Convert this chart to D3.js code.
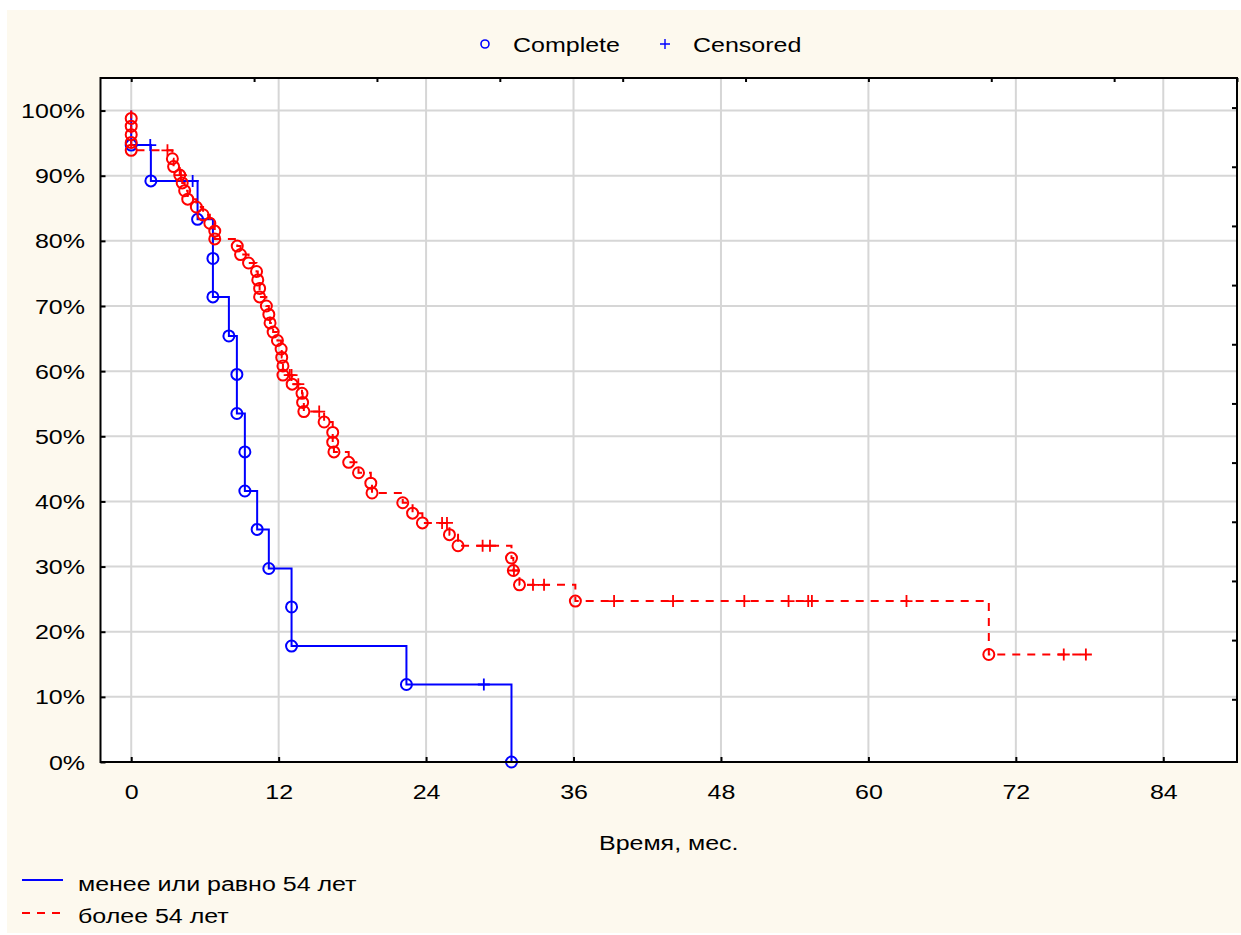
<!DOCTYPE html>
<html>
<head>
<meta charset="utf-8">
<script src="https://cdn.jsdelivr.net/npm/d3@7"></script>
<style>
  html, body { margin: 0; padding: 0; background: #fff; }
  svg { display: block; }
  text { font-family: "Liberation Sans", Arial, sans-serif; font-size: 20px; fill: #000; }
</style>
</head>
<body>
<svg id="chart" width="1241" height="935"></svg>
<script>
// Kaplan–Meier survival estimates by age group (time in months, survival in %)
// status: 1 = complete (event), 0 = censored

// group: age <= 54
const youngTime   = [0, 1.55, 1.6, 5.0, 5.4, 6.65, 6.65, 7.95, 8.6, 8.6, 9.25, 9.25, 10.25, 11.2, 13.05, 13.05, 22.4, 28.7, 30.95];
const youngSurv   = [94.7, 94.7, 89.2, 89.2, 83.3, 77.3, 71.4, 65.4, 59.5, 53.5, 47.6, 41.6, 35.7, 29.7, 23.8, 17.8, 11.9, 11.9, 0];
const youngStatus = [1, 0, 1, 0, 1, 1, 1, 1, 1, 1, 1, 1, 1, 1, 1, 1, 1, 0, 1];

// group: age > 54
const oldTime = [0, 0, 0, 0, 0, 2.95, 3.35, 3.45, 3.95, 4.05, 4.15, 4.35, 4.6, 5.3, 5.85, 6.4, 6.8, 6.8,
  8.63, 8.9, 9.55, 10.2, 10.3, 10.45, 10.45, 11.0, 11.2, 11.3, 11.55, 11.9, 12.2, 12.25, 12.35, 12.35,
  12.9, 13.05, 13.1, 13.6, 13.9, 13.95, 14.05, 15.3, 15.7, 16.4, 16.4, 16.5, 17.7, 18.5, 19.5, 19.6,
  22.1, 22.9, 23.7, 25.3, 25.7, 25.9, 26.6, 28.6, 29.2, 30.95, 31.1, 31.15, 31.6, 32.7, 33.6, 36.15,
  39.3, 44.1, 49.9, 53.5, 55.1, 55.4, 63.1, 69.8, 75.9, 77.7];
const oldSurv = [98.8, 97.6, 96.3, 95.1, 93.9, 93.9, 92.6, 91.4, 90.1, 90.1, 88.9, 87.7, 86.4, 85.2, 84.0, 82.7, 81.5, 80.3,
  79.2, 77.9, 76.6, 75.3, 74.0, 72.7, 71.4, 70.0, 68.7, 67.4, 66.0, 64.7, 63.4, 62.1, 60.8, 59.4,
  59.4, 59.4, 58.0, 58.0, 56.6, 55.2, 53.8, 53.8, 52.2, 50.6, 49.1, 47.6, 46.0, 44.4, 42.8, 41.3,
  39.8, 38.2, 36.7, 36.7, 36.7, 34.9, 33.2, 33.2, 33.2, 31.3, 29.4, 29.4, 27.2, 27.2, 27.2, 24.7,
  24.7, 24.7, 24.7, 24.7, 24.7, 24.7, 24.7, 16.5, 16.5, 16.5];
const oldStatus = [1, 1, 1, 1, 1, 0, 1, 1, 1, 0, 1, 1, 1, 1, 1, 1, 1, 1,
  1, 1, 1, 1, 1, 1, 1, 1, 1, 1, 1, 1, 1, 1, 1, 1,
  0, 0, 1, 0, 1, 1, 1, 0, 1, 1, 1, 1, 1, 1, 1, 1,
  1, 1, 1, 0, 0, 1, 1, 0, 0, 1, 1, 0, 1, 0, 0, 1,
  0, 0, 0, 0, 0, 0, 0, 1, 0, 0];

const xTicks      = [0, 12, 24, 36, 48, 60, 72, 84];
const xTopTicks   = [0, 10, 20, 30, 40, 50, 60, 70, 80, 90];
const yTicks      = [0, 10, 20, 30, 40, 50, 60, 70, 80, 90, 100];
const yRightTicks = [1, 2, 3, 4, 5, 6, 7, 8, 9, 10, 11];

const xTitle      = "Время, мес.";
const markerNames = ["Complete", "Censored"];
const groupNames  = ["менее или равно 54 лет", "более 54 лет"];

// ---- layout ----
const W = 1241, H = 935;
const plot = { left: 100.5, right: 1237, top: 78, bottom: 762 };
const SX = 1.25;               // horizontal stretch of the lettering
const BLUE = "#0000ff", RED = "#ff0000";

const svg = d3.select("#chart");

svg.append("rect").attr("x", 0).attr("y", 0).attr("width", W).attr("height", H).attr("fill", "#ffffff");
svg.append("rect").attr("x", 7).attr("y", 10).attr("width", W - 7).attr("height", 923).attr("fill", "#fdf9ee");
svg.append("rect").attr("x", plot.left).attr("y", plot.top)
  .attr("width", plot.right - plot.left).attr("height", plot.bottom - plot.top).attr("fill", "#ffffff");

const x = d3.scaleLinear().domain([-2.5, 90]).range([plot.left, plot.right]);
const y = d3.scaleLinear().domain([0, 105]).range([plot.bottom, plot.top]);
const yAlt = d3.scaleLinear().domain([-0.06, 11.5]).range([plot.bottom, plot.top]);

// grid
const grid = svg.append("g").attr("stroke", "#d6d6d6").attr("stroke-width", 2);
grid.selectAll("line.gx").data(xTicks).join("line")
  .attr("x1", d => x(d)).attr("x2", d => x(d)).attr("y1", plot.top).attr("y2", plot.bottom);
grid.selectAll("line.gy").data(yTicks.filter(d => d > 0)).join("line")
  .attr("x1", plot.left).attr("x2", plot.right).attr("y1", d => y(d)).attr("y2", d => y(d));

// survival curves
function rows(t, s, st) { return t.map((v, i) => ({ t: v, s: s[i], status: st[i] })); }
const groups = [
  { rows: rows(youngTime, youngSurv, youngStatus), color: BLUE, dash: null },
  { rows: rows(oldTime, oldSurv, oldStatus), color: RED, dash: "8,7" }
];

const stepLine = d3.line().x(d => x(d.t)).y(d => y(d.s)).curve(d3.curveStepAfter);

groups.forEach(g => {
  const pts = [{ t: 0, s: 100 }].concat(g.rows);
  svg.append("path").datum(pts)
    .attr("d", stepLine)
    .attr("fill", "none")
    .attr("stroke", g.color)
    .attr("stroke-width", 2)
    .attr("stroke-dasharray", g.dash);

  const mk = svg.append("g").attr("stroke", g.color).attr("fill", "none").attr("stroke-width", 2);
  mk.selectAll("circle").data(g.rows.filter(d => d.status === 1)).join("circle")
    .attr("cx", d => x(d.t)).attr("cy", d => y(d.s)).attr("r", 5.5);
  mk.selectAll("path").data(g.rows.filter(d => d.status === 0)).join("path")
    .attr("stroke-width", 1.8)
    .attr("d", d => `M${x(d.t) - 6},${y(d.s)}H${x(d.t) + 6}M${x(d.t)},${y(d.s) - 6}V${y(d.s) + 6}`);
});

// axes
function styleAxis(g) {
  g.select(".domain").remove();
  g.selectAll(".tick line").attr("stroke", "#000").attr("stroke-width", 2);
}

const axB = svg.append("g").attr("transform", `translate(0,${plot.bottom})`)
  .call(d3.axisBottom(x).tickValues(xTicks).tickSizeInner(-5).tickSizeOuter(0).tickPadding(0));
styleAxis(axB);
axB.selectAll(".tick text").attr("y", 0).attr("dy", null)
  .attr("transform", `translate(0,37) scale(${SX},1)`);

const axL = svg.append("g").attr("transform", `translate(${plot.left},0)`)
  .call(d3.axisLeft(y).tickValues(yTicks).tickFormat(d => d + "%").tickSizeInner(-5).tickSizeOuter(0));
styleAxis(axL);
axL.selectAll(".tick text").attr("x", 0).attr("dy", null).attr("y", 0)
  .attr("transform", `translate(-15.5,7) scale(${SX},1)`);

const axT = svg.append("g").attr("transform", `translate(0,${plot.top})`)
  .call(d3.axisTop(x).tickValues(xTopTicks).tickFormat("").tickSizeInner(-4).tickSizeOuter(0));
styleAxis(axT);

const axR = svg.append("g").attr("transform", `translate(${plot.right},0)`)
  .call(d3.axisRight(yAlt).tickValues(yRightTicks).tickFormat("").tickSizeInner(-5).tickSizeOuter(0));
styleAxis(axR);

svg.selectAll(".tick text").style("font-family", '"Liberation Sans", Arial, sans-serif').style("font-size", "20px").attr("fill", "#000");

// frame
svg.append("rect").attr("x", plot.left).attr("y", plot.top)
  .attr("width", plot.right - plot.left).attr("height", plot.bottom - plot.top)
  .attr("fill", "none").attr("stroke", "#000").attr("stroke-width", 2);

// text helper with horizontal stretch
function label(px, py, str, anchor) {
  return svg.append("text")
    .attr("transform", `translate(${px},${py}) scale(${SX},1)`)
    .attr("text-anchor", anchor || "start")
    .text(str);
}

label((plot.left + plot.right) / 2 + 0, 850, xTitle, "middle");

// marker legend (top)
svg.append("circle").attr("cx", 485).attr("cy", 44).attr("r", 4)
  .attr("fill", "none").attr("stroke", BLUE).attr("stroke-width", 1.6);
label(513, 52, markerNames[0]);
svg.append("path").attr("d", "M660,44H670M665,39V49").attr("stroke", BLUE).attr("stroke-width", 1.4);
label(693, 52, markerNames[1]);

// group legend (bottom)
svg.append("line").attr("x1", 22).attr("x2", 63).attr("y1", 880).attr("y2", 880)
  .attr("stroke", BLUE).attr("stroke-width", 2);
label(78, 891, groupNames[0]);
svg.append("line").attr("x1", 22).attr("x2", 63).attr("y1", 913).attr("y2", 913)
  .attr("stroke", RED).attr("stroke-width", 2).attr("stroke-dasharray", "8,7");
label(78, 923, groupNames[1]);
</script>
</body>
</html>
